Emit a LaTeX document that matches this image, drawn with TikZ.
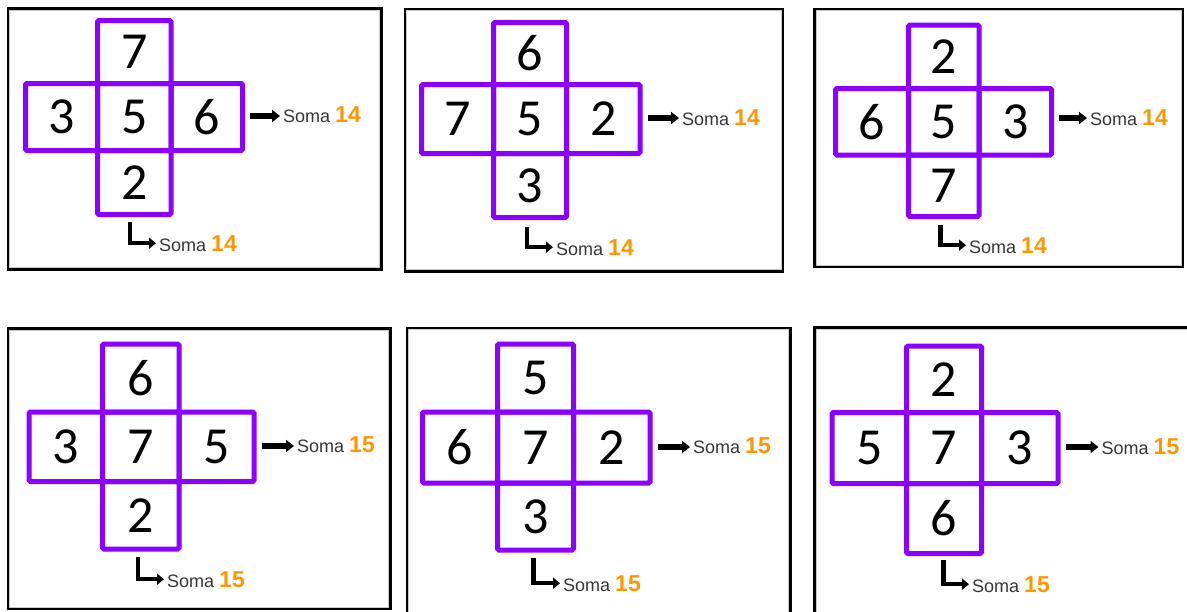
\documentclass[tikz,border=0pt]{standalone}
\usepackage{fontspec}
\setmainfont{Carlito}
\newfontfamily\labfont{Liberation Sans}
\usetikzlibrary{arrows.meta}
\definecolor{crosspurple}{RGB}{140,0,255}
\definecolor{sumorange}{RGB}{255,150,0}
\definecolor{somagray}{RGB}{55,55,55}
\tikzset{
 cell/.style={draw=crosspurple, line width=5pt, rounded corners=1.5pt, inner sep=0pt, outer sep=0pt, font=\fontsize{52}{60}\selectfont, text=black},
 frame/.style={draw=black, line width=2.2pt},
 frameshade/.style={draw=black!22, line width=1.2pt},
 sumlabel/.style={anchor=base west, inner sep=3pt, text=somagray, font=\labfont\fontsize{18}{20}\selectfont},
 arr/.style={line width=5.5pt, -{Triangle[length=8pt,width=12pt]}},
 larr/.style={line width=4.5pt, -{Triangle[length=7pt,width=11pt]}},
}
\newcommand\crosscell[6]{\node[cell, minimum width={#4-#2}, minimum height={#5-#3}] (#1) at ({(#2+#4)/2},{(#3+#5)/2}) {#6};}
\newcommand\sumtext[1]{Soma {\color{sumorange}\bfseries\fontsize{23}{26}\selectfont #1}}
\begin{document}
\begin{tikzpicture}[x=1pt,y=-1pt]
\useasboundingbox (0,0) rectangle (1187,611);
\clip (0,0) rectangle (1187,611);
\fill[white] (0,0) rectangle (1187,611);
% frames
\draw[frameshade] (9.7,10.2) rectangle (379.8,267.8);
\draw[frame] (8,8.5) rectangle (381.5,269.5);
\draw[frameshade] (406.7,10.7) rectangle (781.3,269.8);
\draw[frame] (405,9) rectangle (783,271.5);
\draw[frameshade] (816.2,10.7) rectangle (1181.3,265.3);
\draw[frame] (814.5,9) rectangle (1183,267);
\draw[frameshade] (9.7,330.2) rectangle (388.8,607.3);
\draw[frame] (8,328.5) rectangle (390.5,609);
\draw[frameshade] (408.7,329.7) rectangle (788.8,618.3);
\draw[frame] (407,328) rectangle (790.5,620);
\draw[frameshade] (816.2,329.2) rectangle (1198.3,618.3);
\draw[frame] (814.5,327.5) rectangle (1200,620);
% panel 1
\crosscell{p1t}{97.5}{20.5}{171}{83.5}{7}
\crosscell{p1l}{25.5}{83.5}{97.5}{150.5}{3}
\crosscell{p1r}{171}{83.5}{242.5}{150.5}{6}
\crosscell{p1b}{97.5}{150.5}{171}{214.5}{2}
\crosscell{p1c}{97.5}{83.5}{171}{150.5}{5}
\node[sumlabel] (p1s) at (280,122) {\sumtext{14}};
\coordinate (p1a) at (250,116);
\draw[arr] (p1a) -- (p1a -| p1s.west);
\node[sumlabel] (p1ls) at (156,251) {\sumtext{14}};
\coordinate (p1la) at (130,222);
\draw[larr] (p1la) |- (p1ls.west);
% panel 2
\crosscell{p2t}{493.5}{22.5}{566.5}{84.5}{6}
\crosscell{p2l}{421.5}{84.5}{493.5}{153.5}{7}
\crosscell{p2r}{566.5}{84.5}{640}{153.5}{2}
\crosscell{p2b}{493.5}{153.5}{566.5}{217.5}{3}
\crosscell{p2c}{493.5}{84.5}{566.5}{153.5}{5}
\node[sumlabel] (p2s) at (679,125) {\sumtext{14}};
\coordinate (p2a) at (648,118);
\draw[arr] (p2a) -- (p2a -| p2s.west);
\node[sumlabel] (p2ls) at (553,255) {\sumtext{14}};
\coordinate (p2la) at (527,227);
\draw[larr] (p2la) |- (p2ls.west);
% panel 3
\crosscell{p3t}{908.5}{25}{979}{88.5}{2}
\crosscell{p3l}{835.5}{88.5}{908.5}{155}{6}
\crosscell{p3r}{979}{88.5}{1051.5}{155}{3}
\crosscell{p3b}{908.5}{155}{979}{216.5}{7}
\crosscell{p3c}{908.5}{88.5}{979}{155}{5}
\node[sumlabel] (p3s) at (1087,125) {\sumtext{14}};
\coordinate (p3a) at (1059,118);
\draw[arr] (p3a) -- (p3a -| p3s.west);
\node[sumlabel] (p3ls) at (966,253) {\sumtext{14}};
\coordinate (p3la) at (940.5,225);
\draw[larr] (p3la) |- (p3ls.west);
% panel 4
\crosscell{p4t}{102.5}{344}{179}{412}{6}
\crosscell{p4l}{29}{412}{102.5}{481.5}{3}
\crosscell{p4r}{179}{412}{254}{481.5}{5}
\crosscell{p4b}{102.5}{481.5}{179}{549}{2}
\crosscell{p4c}{102.5}{412}{179}{481.5}{7}
\node[sumlabel] (p4s) at (294,452) {\sumtext{15}};
\coordinate (p4a) at (262,446);
\draw[arr] (p4a) -- (p4a -| p4s.west);
\node[sumlabel] (p4ls) at (164,587) {\sumtext{15}};
\coordinate (p4la) at (138,557);
\draw[larr] (p4la) |- (p4ls.west);
% panel 5
\crosscell{p5t}{497.5}{344}{573.5}{412}{5}
\crosscell{p5l}{422.5}{412}{497.5}{483}{6}
\crosscell{p5r}{573.5}{412}{650}{483}{2}
\crosscell{p5b}{497.5}{483}{573.5}{550}{3}
\crosscell{p5c}{497.5}{412}{573.5}{483}{7}
\node[sumlabel] (p5s) at (690,453) {\sumtext{15}};
\coordinate (p5a) at (658,447);
\draw[arr] (p5a) -- (p5a -| p5s.west);
\node[sumlabel] (p5ls) at (560,591) {\sumtext{15}};
\coordinate (p5la) at (533.5,558);
\draw[larr] (p5la) |- (p5ls.west);
% panel 6
\crosscell{p6t}{906.5}{346}{981.5}{412.5}{2}
\crosscell{p6l}{832}{412.5}{906.5}{483.5}{5}
\crosscell{p6r}{981.5}{412.5}{1058}{483.5}{3}
\crosscell{p6b}{906.5}{483.5}{981.5}{553.5}{6}
\crosscell{p6c}{906.5}{412.5}{981.5}{483.5}{7}
\node[sumlabel] (p6s) at (1098.5,454) {\sumtext{15}};
\coordinate (p6a) at (1066,447);
\draw[arr] (p6a) -- (p6a -| p6s.west);
\node[sumlabel] (p6ls) at (969,592) {\sumtext{15}};
\coordinate (p6la) at (943.5,560);
\draw[larr] (p6la) |- (p6ls.west);
\end{tikzpicture}
\end{document}
